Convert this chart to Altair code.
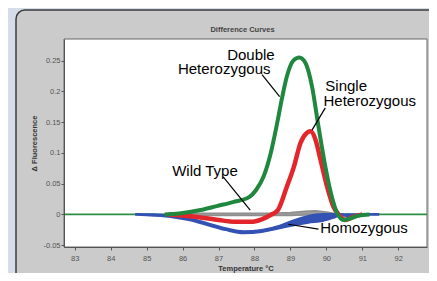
import altair as alt
import pandas as pd

# ---- data ----
green_t = [85.5, 85.9, 86.5, 86.95, 87.4, 87.85, 88.05, 88.25, 88.45, 88.63, 88.77, 88.9, 89.08, 89.25,
           89.42, 89.6, 89.78, 89.97, 90.15, 90.3, 90.48, 90.65, 90.9, 91.2]
green_y = [0, 0.0015, 0.007, 0.0135, 0.02, 0.028, 0.04, 0.061, 0.099, 0.148, 0.19, 0.224, 0.25, 0.255,
           0.246, 0.208, 0.143, 0.078, 0.029, 0.002, -0.009, -0.007, -0.002, 0]

base_t = [82.7, 92.8]
base_y = [0, 0]

red_t = [85.6, 86.0, 86.5, 87.0, 87.45, 87.9, 88.2, 88.45, 88.65, 88.9, 89.1, 89.28, 89.45, 89.56,
         89.7, 89.84, 90.02, 90.2, 90.34, 90.52, 90.75, 91.0]
red_y = [0, -0.002, -0.005, -0.009, -0.012, -0.012, -0.008, -0.001, 0.007, 0.045, 0.078, 0.116, 0.132, 0.135,
         0.121, 0.088, 0.045, 0.012, 0.0, -0.009, -0.004, 0]

blue_t = [84.7, 85.2, 85.7, 86.2, 86.7, 87.2, 87.7, 88.2, 88.7, 89.1, 89.5, 89.9, 90.2, 90.4, 90.6, 91.0, 91.45]
blue_hi = [0.001, 0.0005, -0.001, -0.006, -0.014, -0.022, -0.027, -0.025, -0.018, -0.009, -0.002, 0.001,
           0.001, 0.001, 0.0005, 0.0008, 0.001]
blue_lo = [-0.001, -0.0025, -0.005, -0.010, -0.018, -0.026, -0.031, -0.029, -0.023, -0.018, -0.014, -0.011,
           -0.006, -0.002, -0.003, -0.001, -0.001]

gray_t = [85.8, 86.5, 87.5, 88.5, 89.0, 89.4, 89.7, 90.0, 90.3]
gray_hi = [0.002, 0.002, 0.002, 0.002, 0.003, 0.005, 0.006, 0.004, 0.001]
gray_lo = [-0.002, -0.002, -0.002, -0.002, -0.002, -0.001, 0.0, -0.001, -0.001]

x_ticks = [83, 84, 85, 86, 87, 88, 89, 90, 91, 92]
y_ticks = [-0.05, 0, 0.05, 0.1, 0.15, 0.2, 0.25]

chart_title = ["Difference Curves"]

labels = ["Double", "Heterozygous", "Single", "Heterozygous", "Wild Type", "Homozygous"]
label_t = [87.24, 85.87, 89.97, 89.92, 85.71, 89.83]
label_y = [0.2505, 0.2283, 0.2005, 0.1769, 0.0629, -0.0295]

lead_t = [88.21, 89.97, 87.13, 89.78]
lead_y = [0.227, 0.173, 0.061, -0.024]
lead_t2 = [88.70, 89.60, 87.88, 88.94]
lead_y2 = [0.1915, 0.137, 0.007, -0.016]

XD = [82.7, 92.8]
YD = [-0.053, 0.285]
W, H = 363, 208

xs = alt.Scale(domain=XD, nice=False, zero=False)
ys = alt.Scale(domain=YD, nice=False, zero=False)

common = dict(grid=False, labelFontSize=7.5, labelColor="#555", titleFontSize=7.5, titleColor="#333",
              titleFontWeight="bold", tickSize=3, domainColor="#555", tickColor="#555", zindex=2,
              labelOverlap=False, labelBound=False, labelFlush=False,
              labelFont="Liberation Sans", titleFont="Liberation Sans")
x_axis = alt.Axis(values=x_ticks, format="d", title="Temperature \u00b0C",
                  labelPadding=4, titlePadding=3, **common)
y_axis = alt.Axis(values=y_ticks, labelExpr="replace(format(datum.value, '.2~f'), '\u2212', '-')",
                  title="\u0394 Fluorescence", labelPadding=1, titlePadding=4, **common)


def X(f):
    return alt.X(f, type="quantitative", scale=xs, axis=x_axis)


def Y(f):
    return alt.Y(f, type="quantitative", scale=ys, axis=y_axis)


one = alt.Data(values=[{"a": 1}])

panel = alt.Chart(one).mark_rect(fill="#cbcbcb", stroke="#3c3c3c", strokeWidth=1.5, cornerRadius=9).encode(
    x=alt.value(-48), x2=alt.value(400), y=alt.value(-29), y2=alt.value(280))
plotbg = alt.Chart(one).mark_rect(fill="white", stroke="#666", strokeWidth=1).encode(
    x=alt.value(0), x2=alt.value(W), y=alt.value(0), y2=alt.value(H))
title = alt.Chart(pd.DataFrame({"text": chart_title})).mark_text(
    font="Liberation Sans", fontSize=7.5, fontWeight="bold", color="#444", baseline="alphabetic").encode(
    x=alt.value(W / 2 - 3), y=alt.value(-7), text="text:N")

base_df = pd.DataFrame({"t": base_t, "y": base_y})
green_df = pd.DataFrame({"t": green_t, "y": green_y})
red_df = pd.DataFrame({"t": red_t, "y": red_y})
blue_df = pd.DataFrame({"t": blue_t, "hi": blue_hi, "lo": blue_lo})
gray_df = pd.DataFrame({"t": gray_t, "hi": gray_hi, "lo": gray_lo})
lab_df = pd.DataFrame({"text": labels, "t": label_t, "y": label_y})
lead_df = pd.DataFrame({"t": lead_t, "y": lead_y, "t2": lead_t2, "y2": lead_y2})

baseline = alt.Chart(base_df).mark_line(color="#2a8f45", strokeWidth=1.6).encode(x=X("t"), y=Y("y"))

gray = alt.Chart(gray_df).mark_area(color="#9b9b9b", stroke="#8e8e8e", strokeWidth=1.5, opacity=1).encode(
    x=X("t"), y=Y("hi"), y2="lo:Q")

blue = alt.Chart(blue_df).mark_area(color="#3352b3", stroke="#3352b3", strokeWidth=1.5,
                                    interpolate="monotone").encode(x=X("t"), y=Y("hi"), y2="lo:Q")

red = alt.Chart(red_df).mark_line(color="#e3262b", strokeWidth=4.5, interpolate="monotone").encode(
    x=X("t"), y=Y("y"))

green = alt.Chart(green_df).mark_line(color="#20883e", strokeWidth=4, interpolate="monotone").encode(
    x=X("t"), y=Y("y"))

leads = alt.Chart(lead_df).mark_rule(color="black", strokeWidth=1.2).encode(
    x=X("t"), y=Y("y"), x2="t2:Q", y2="y2:Q")

texts = alt.Chart(lab_df).mark_text(align="left", baseline="alphabetic", font="Liberation Sans",
                                     fontSize=15, lineHeight=13, color="black").encode(
    x=X("t"), y=Y("y"), text="text:N")

chart = alt.layer(panel, plotbg, title, baseline, gray, blue, red, green, leads, texts).properties(
    width=W, height=H,
    autosize=alt.AutoSizeParams(type="none"),
    padding={"left": 56, "top": 31, "right": 2, "bottom": 26},
    background="#d5dde8",
).configure_view(stroke=None)

chart.save("out.html", embed_options={"renderer": "svg", "actions": False})
